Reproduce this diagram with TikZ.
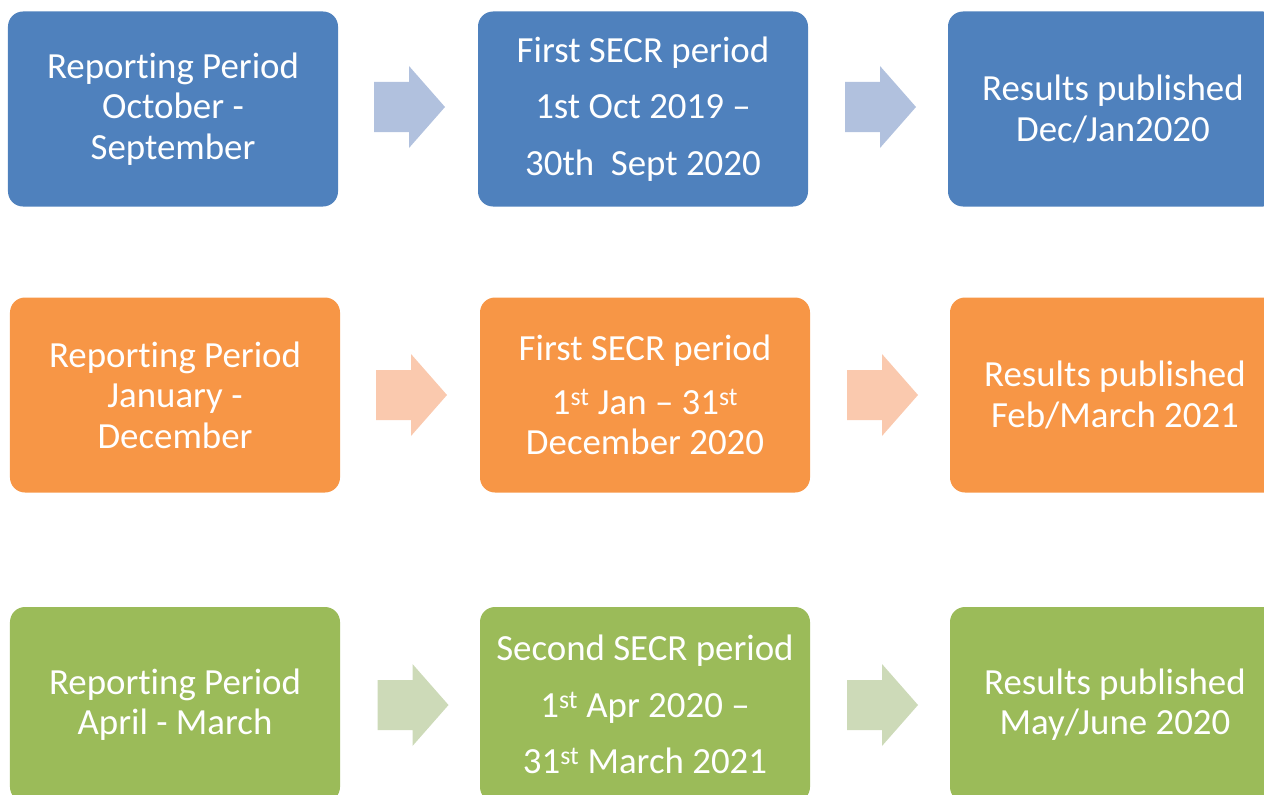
\documentclass[tikz,border=0pt]{standalone}
\usepackage{fontspec}
\setmainfont{Carlito}[RawFeature={-liga;-clig;-calt;-dlig}]
\definecolor{bluebox}{HTML}{4F81BD}
\definecolor{orangebox}{HTML}{F79646}
\definecolor{greenbox}{HTML}{9BBB59}
\definecolor{bluearr}{HTML}{B1C1DE}
\definecolor{orangearr}{HTML}{FAC9AE}
\definecolor{greenarr}{HTML}{CDDAB8}
\newcommand\blockarrow[2]{\fill[#1] (#2) ++(-35.5,-25) -- ++(35,0) -- ++(0,-16) -- ++(36,41) -- ++(-36,41) -- ++(0,-16) -- ++(-35,0) -- cycle;}
\begin{document}
\begin{tikzpicture}[x=1bp,y=-1bp,
  box/.style={rounded corners=15bp, minimum width=330bp, minimum height=195bp, inner sep=0pt,
    text=white, align=center, font=\fontsize{37}{40.5}\selectfont}]
\useasboundingbox (0,0) rectangle (1264,795);
\clip (0,0) rectangle (1264,795);
% row 1
\node[box, fill=bluebox] (b11) at (173,109) {Reporting Period\\October -\\September};
\node[box, fill=bluebox] (b12) at (643,109) {First SECR period\\[16bp]1st Oct 2019 –\\[16bp]30th\ \ Sept 2020};
\node[box, fill=bluebox] (b13) at (1113,109) {Results published\\Dec/Jan2020};
% row 2
\node[box, fill=orangebox] (b21) at (175,395) {Reporting Period\\January -\\December};
\node[box, fill=orangebox] (b22) at (645,395) {First SECR period\\[13bp]1\textsuperscript{st} Jan – 31\textsuperscript{st}\\[0bp]December 2020};
\node[box, fill=orangebox] (b23) at (1115,395) {Results published\\Feb/March 2021};
% row 3
\node[box, fill=greenbox] (b31) at (175,704.5) {Reporting Period\\April - March};
\node[box, fill=greenbox] (b32) at (645,704.5) {Second SECR period\\[16bp]1\textsuperscript{st} Apr 2020 –\\[16bp]31\textsuperscript{st} March 2021};
\node[box, fill=greenbox] (b33) at (1115,704.5) {Results published\\May/June 2020};
% arrows
\coordinate (a11) at (409.5,107);
\coordinate (a12) at (880.5,107);
\coordinate (a21) at (411.5,395);
\coordinate (a22) at (882.5,395);
\coordinate (a31) at (413,705);
\coordinate (a32) at (882.5,705);
\blockarrow{bluearr}{a11}
\blockarrow{bluearr}{a12}
\blockarrow{orangearr}{a21}
\blockarrow{orangearr}{a22}
\blockarrow{greenarr}{a31}
\blockarrow{greenarr}{a32}
\end{tikzpicture}
\end{document}
